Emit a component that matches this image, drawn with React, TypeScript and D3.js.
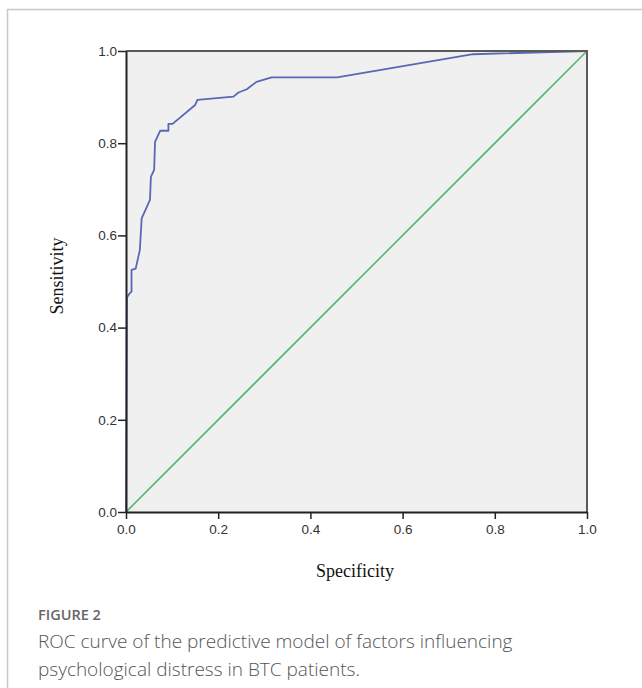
import { useEffect, useRef } from 'react';
import * as d3 from 'd3';

// ─── Data ───────────────────────────────────────────────────

// ROC curve: 1 - specificity (fpr) against sensitivity (tpr)
const rocFpr = [0, 0.002, 0.007, 0.012, 0.012, 0.021, 0.03, 0.034, 0.052, 0.054, 0.061, 0.063, 0.074, 0.092, 0.092, 0.101, 0.15, 0.155, 0.233, 0.244, 0.262, 0.283, 0.316, 0.458, 0.753, 1];
const rocTpr = [0, 0.465, 0.473, 0.478, 0.525, 0.528, 0.568, 0.637, 0.677, 0.727, 0.742, 0.803, 0.827, 0.827, 0.842, 0.842, 0.883, 0.894, 0.901, 0.91, 0.917, 0.933, 0.943, 0.943, 0.993, 1];
const refLine = [0, 1];
const tickValues = [0, 0.2, 0.4, 0.6, 0.8, 1.0];

const xTitle = 'Specificity';
const yTitle = 'Sensitivity';
const figLabel = 'FIGURE 2';
const captionLines = [
  'ROC curve of the predictive model of factors influencing',
  'psychological distress in BTC patients.',
];

// ─── Layout ─────────────────────────────────────────────────

const W = 642;
const H = 688;
const PLOT = { left: 126, right: 587, top: 51, bottom: 512 };

export default function App() {
  const svgRef = useRef<SVGSVGElement>(null);

  useEffect(() => {
    if (!svgRef.current) return;
    const svg = d3.select(svgRef.current);
    svg.selectAll('*').remove();

    // Card outline (left + top)
    svg.append('path')
      .attr('d', `M7.5,${H} L7.5,9.5 L${W},9.5`)
      .attr('fill', 'none')
      .attr('stroke', '#c8c8c8')
      .attr('stroke-width', 1.5);

    const x = d3.scaleLinear().domain([0, 1]).range([PLOT.left, PLOT.right]);
    const y = d3.scaleLinear().domain([0, 1]).range([PLOT.bottom, PLOT.top]);

    // Plot background
    svg.append('rect')
      .attr('x', PLOT.left).attr('y', PLOT.top)
      .attr('width', PLOT.right - PLOT.left)
      .attr('height', PLOT.bottom - PLOT.top)
      .attr('fill', '#f0f0f0');

    const pts = rocFpr.map((f, i) => ({ f, t: rocTpr[i] }));
    const lineGen = d3.line<{ f: number; t: number }>()
      .x((d) => x(d.f))
      .y((d) => y(d.t));

    // Reference diagonal
    svg.append('path')
      .datum(refLine.map((v) => ({ f: v, t: v })))
      .attr('fill', 'none')
      .attr('stroke', '#52b86a')
      .attr('stroke-width', 1.6)
      .attr('d', lineGen);

    // ROC curve
    svg.append('path')
      .datum(pts)
      .attr('fill', 'none')
      .attr('stroke', '#5a68b4')
      .attr('stroke-width', 1.8)
      .attr('stroke-linejoin', 'round')
      .attr('d', lineGen);

    // Frame (top/right)
    svg.append('path')
      .attr('d', `M${PLOT.left},${PLOT.top} L${PLOT.right},${PLOT.top} L${PLOT.right},${PLOT.bottom}`)
      .attr('fill', 'none')
      .attr('stroke', '#5a5a5a')
      .attr('stroke-width', 2);

    const styleAxis = (sel: d3.Selection<SVGGElement, unknown, null, undefined>) => {
      sel.select('.domain').attr('stroke', '#222').attr('stroke-width', 2);
      sel.selectAll('.tick line').attr('stroke', '#222').attr('stroke-width', 1.5);
      sel.selectAll('.tick text')
        .attr('fill', '#333')
        .attr('font-family', 'Liberation Sans, Arial, sans-serif')
        .attr('font-size', '13.5px');
    };

    // X axis
    svg.append('g')
      .attr('transform', `translate(0,${PLOT.bottom})`)
      .call(d3.axisBottom(x).tickValues(tickValues).tickFormat(d3.format('.1f')).tickSize(7).tickSizeOuter(0).tickPadding(5))
      .call(styleAxis);

    // Y axis
    svg.append('g')
      .attr('transform', `translate(${PLOT.left},0)`)
      .call(d3.axisLeft(y).tickValues(tickValues).tickFormat(d3.format('.1f')).tickSize(8).tickSizeOuter(0).tickPadding(1))
      .call(styleAxis);

    // Axis titles
    svg.append('text')
      .attr('x', 355)
      .attr('y', 577)
      .attr('text-anchor', 'middle')
      .attr('font-family', 'Liberation Serif, Times New Roman, serif')
      .attr('font-size', '18px')
      .attr('fill', '#111')
      .text(xTitle);

    svg.append('text')
      .attr('transform', 'translate(63,276) rotate(-90)')
      .attr('text-anchor', 'middle')
      .attr('font-family', 'Liberation Serif, Times New Roman, serif')
      .attr('font-size', '18px')
      .attr('fill', '#111')
      .text(yTitle);

    // Caption
    svg.append('text')
      .attr('x', 38).attr('y', 620)
      .attr('font-family', 'Open Sans, sans-serif')
      .attr('font-size', '14.5px')
      .attr('font-weight', 600)
      .attr('fill', '#666')
      .text(figLabel);

    captionLines.forEach((line, i) => {
      svg.append('text')
        .attr('x', 38).attr('y', 648 + i * 28)
        .attr('font-family', 'Open Sans, sans-serif')
        .attr('font-size', '19px')
        .attr('font-weight', 300)
        .attr('fill', '#555')
        .text(line);
    });
  }, []);

  return (
    <svg
      ref={svgRef}
      width={W}
      height={H}
      style={{ position: 'absolute', left: 0, top: 0, background: '#fff' }}
    />
  );
}
